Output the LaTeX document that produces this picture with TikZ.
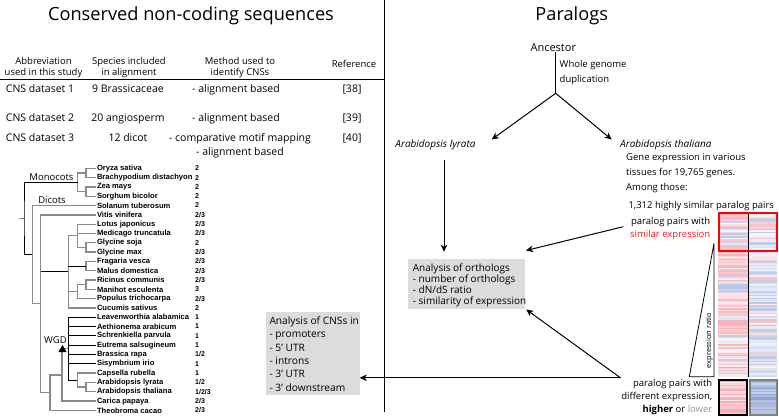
\documentclass[tikz,border=0pt]{standalone}
\usepackage{fontspec}
\setmainfont{Open Sans}
\newfontfamily\treefont{Liberation Sans}
\usetikzlibrary{arrows.meta}
\definecolor{boxgray}{RGB}{220,220,220}
\definecolor{treegray}{RGB}{138,138,138}
\definecolor{redtxt}{RGB}{230,25,35}
\definecolor{pinkc}{RGB}{238,110,125}
\definecolor{bluec}{RGB}{110,135,200}
\definecolor{lowgray}{RGB}{150,150,150}
\newcommand{\fsz}[2]{\fontsize{#1}{#2}\selectfont}
\tikzset{
  ttl/.style={font=\fsz{18.2}{22}, inner sep=0, anchor=base},
  hdr/.style={font=\fsz{9.5}{11}, align=center, inner sep=0},
  cell/.style={font=\fsz{10.5}{13}, inner sep=0, anchor=base},
  txt/.style={font=\fsz{9.5}{15}, inner sep=0},
  sp/.style={font=\treefont\bfseries\fsz{7.6}{9}, anchor=west, inner sep=0.8pt},
  num/.style={font=\treefont\bfseries\fsz{7}{9}, anchor=west, inner sep=0},
  clade/.style={font=\fsz{9.5}{11}, inner sep=0},
  tg/.style={draw=treegray, line width=1.3},
  tb/.style={draw=black, line width=0.9},
  arr/.style={-{Stealth[length=7pt,width=6.5pt,inset=2pt]}, line width=1},
  gbox/.style={fill=boxgray, inner sep=0, anchor=north west},
}
\begin{document}
\begin{tikzpicture}[x=1pt,y=-1pt]
\useasboundingbox (0,0) rectangle (779,416);

% ---------- left part ----------
\node[ttl] (ltitle) at (191,20.7) {Conserved non-coding sequences};
\draw[line width=0.9] (384,0) -- (384,412);
\draw[line width=0.9] (0,79) -- (384,79);

\node[hdr] (h1) at (43.5,67.4) {Abbreviation\\used in this study};
\node[hdr] (h2) at (129,67.4) {Species included\\in alignment};
\node[hdr] (h3) at (240,67.4) {Method used to\\identify CNSs};
\node[hdr] (h4) at (354,64) {Reference};

\node[cell] (r1a) at (40,92.8) {CNS dataset 1};
\node[cell] (r1b) at (128,92.8) {9 Brassicaceae};
\node[cell] (r1c) at (236,92.8) {- alignment based};
\node[cell] (r1d) at (352,92.8) {[38]};
\node[cell] (r2a) at (40,121.3) {CNS dataset 2};
\node[cell] (r2b) at (128,121.3) {20 angiosperm};
\node[cell] (r2c) at (236,121.3) {- alignment based};
\node[cell] (r2d) at (352,121.3) {[39]};
\node[cell] (r3a) at (40,141.8) {CNS dataset 3};
\node[cell] (r3b) at (128,141.8) {12 dicot};
\node[cell] (r3c) at (240,141.8) {- comparative motif mapping};
\node[cell] (r3e) at (240,155.3) {- alignment based};
\node[cell] (r3d) at (352,141.8) {[40]};

% tree
\foreach \nm/\nu [count=\i from 0] in {Oryza sativa/{2},Brachypodium distachyon/{2},Zea mays/{2},Sorghum bicolor/{2},Solanum tuberosum/{2},Vitis vinifera/{2/3},Lotus japonicus/{2/3},Medicago truncatula/{2/3},Glycine soja/{2},Glycine max/{2/3},Fragaria vesca/{2/3},Malus domestica/{2/3},Ricinus communis/{2/3},Manihot esculenta/{3},Populus trichocarpa/{2/3},Cucumis sativus/{2},Leavenworthia alabamica/{1},Aethionema arabicum/{1},Schrenkiella parvula/{1},Eutrema salsugineum/{1},Brassica rapa/{1/2},Sisymbrium irio/{1},Capsella rubella/{1},Arabidopsis lyrata/{1/2},Arabidopsis thaliana/{1/2/3},Carica papaya/{2/3},Theobroma cacao/{2/3}}{
  \node[sp] (s\i) at (96,{168.3+9.31*\i}) {\nm};
  \node[num] (n\i) at (195,{168.3+9.31*\i}) {\nu};
}
\coordinate (jOB) at (86,172.95);
\coordinate (jZS) at (86,191.57);
\coordinate (jMon) at (77.7,182.3);
\coordinate (jRoot) at (24,218.5);
\coordinate (jDic) at (32.3,254.6);
\coordinate (jRos) at (40.7,303.8);
\coordinate (jGG) at (86,247.45);
\coordinate (jLeg) at (77.3,235.8);
\coordinate (jFM) at (86,266.05);
\coordinate (jRM) at (86,284.65);
\coordinate (jRMP) at (77.3,291.6);
\coordinate (jFab) at (68.3,271.9);
\coordinate (jLT) at (86,387.05);
\coordinate (jCap) at (77.3,380.1);
\coordinate (jBra) at (68.3,348.7);
\coordinate (jWGD) at (62,374.9);
\coordinate (jCT) at (50,392.65);

\draw[tg] (s0.west) -| (jOB) |- (s1.west);
\draw[tg] (s2.west) -| (jZS) |- (s3.west);
\draw[tg] (jOB) -| (jMon) |- (jZS);
\draw[tb] (jMon) -| (jRoot) |- (jDic);
\draw[tg] (jRoot) -- ++(-5,0);
\draw[tg] (s4.west) -| (jDic) |- (jRos);
\draw[tg] (s5.west) -| (jRos) |- (jCT);
\draw[tb] (jRos |- jFab) -- (jFab);
\draw[tg] (jLeg) -| (jFab) |- (s15.west);
\draw[tg] (s6.west) -| (jLeg) |- (jGG);
\draw[tg] (s7.west) -- (jLeg |- s7.west);
\draw[tg] (s8.west) -| (jGG) |- (s9.west);
\draw[tg] (s10.west) -| (jFM) |- (s11.west);
\draw[tb] (jFab |- jFM) -- (jFM);
\draw[tg] (s12.west) -| (jRM) |- (s13.west);
\draw[tg] (jRM) -| (jRMP) |- (s14.west);
\draw[tg] (jFab |- jRMP) -- (jRMP);
\draw[tb] (s16.west) -| (jBra) |- (jCap);
\foreach \k in {17,...,21}{ \draw[tb] (s\k.west) -- (jBra |- s\k.west); }
\draw[tg] (s22.west) -| (jCap) |- (jLT);
\draw[tg] (s23.west) -| (jLT) |- (s24.west);
\draw[tg] (jBra) -| (jWGD) |- (s25.west);
\draw[tg] (jWGD) -| (jCT) |- (s26.west);
\fill (58.3,352.2) -- (66.7,352.2) -- (62.5,345) -- cycle;

\node[clade] (mono) at (51.5,177) {Monocots};
\node[clade] (dico) at (52,200) {Dicots};
\node[clade] (wgd) at (55.5,340.5) {WGD};

% CNS box
\node[gbox, minimum width=93.3, minimum height=83.3] (cnsbox) at (266,311.7) {};
\node[font=\fsz{10.2}{13.3}, align=left, inner sep=0, anchor=north west] (cnstext) at (269.3,316.5)
  {Analysis of CNSs in\\- promoters\\- 5’ UTR\\- introns\\- 3’ UTR\\- 3’ downstream};

% ---------- right part ----------
\node[ttl] (rtitle) at (571.7,20.7) {Paralogs};
\node[font=\fsz{11}{13}, inner sep=0, anchor=base] (anc) at (553.3,51.7) {Ancestor};
\coordinate (split) at (555.7,93.3);
\coordinate (lyrtip) at (491.7,139.5);
\coordinate (thatip) at (611.7,139.5);
\draw[line width=1] (split |- anc.south) -- (split);
\draw[arr] (split) -- (lyrtip);
\draw[arr] (split) -- (thatip);
\node[txt, align=left, anchor=north west] (wgdtxt) at (559.5,60.3) {Whole genome\\duplication};

\node[font=\fsz{10}{12}\itshape, inner sep=0, anchor=base] (lyr) at (435.5,147) {Arabidopsis lyrata};
\node[font=\fsz{10}{12}\itshape, inner sep=0, anchor=base west] (tha) at (620,147) {Arabidopsis thaliana};
\node[txt, align=left, anchor=north west] (genetxt) at (626,153.6) {Gene expression in various\\tissues for 19,765 genes.\\Among those:};
\node[txt, anchor=base west] (hsp) at (628.3,208) {1,312 highly similar paralog pairs};

\coordinate (lyrbot) at (444,160);
\coordinate (lyrtip2) at (444,251.7);
\draw[arr] (lyrbot) -- (lyrtip2);

% orthologs box
\node[gbox, minimum width=117.7, minimum height=50] (orthobox) at (407.3,258.3) {};
\node[font=\fsz{10}{11}, align=left, inner sep=0, anchor=north west] (orthotext) at (412.7,263.3)
  {Analysis of orthologs\\- number of orthologs\\- dN/dS ratio\\- similarity of expression};

% heatmap
\pgfmathsetseed{12}
\foreach \i in {0,...,25}{
  \pgfmathsetmacro\hmYa{212.3+1.5*\i}
  \pgfmathsetmacro\hmYb{\hmYa+1.55}
  \pgfmathsetmacro\hmP{rnd}
  \pgfmathsetmacro\hmA{int(8+42*rnd)}
  \ifdim\hmP pt<0.65pt \edef\hmCl{pinkc!\hmA!white}\else\edef\hmCl{bluec!\hmA!white}\fi
  \fill[fill=\hmCl] (718.3,\hmYa) rectangle (748.3,\hmYb);
  \pgfmathsetmacro\hmP{rnd}
  \pgfmathsetmacro\hmA{int(8+38*rnd)}
  \ifdim\hmP pt<0.5pt \edef\hmCl{pinkc!\hmA!white}\else\edef\hmCl{bluec!\hmA!white}\fi
  \fill[fill=\hmCl] (748.3,\hmYa) rectangle (777.3,\hmYb);
}
\foreach \i in {0,...,83}{
  \pgfmathsetmacro\hmYa{251+1.5*\i}
  \pgfmathsetmacro\hmYb{\hmYa+1.55}
  \pgfmathsetmacro\hmP{rnd}
  \pgfmathsetmacro\hmA{int(8+45*rnd)}
  \ifdim\hmP pt<0.75pt \edef\hmCl{pinkc!\hmA!white}\else\edef\hmCl{bluec!\hmA!white}\fi
  \fill[fill=\hmCl] (718.3,\hmYa) rectangle (748.3,\hmYb);
  \pgfmathsetmacro\hmP{rnd}
  \pgfmathsetmacro\hmA{int(8+40*rnd)}
  \pgfmathsetmacro\hmQ{0.45-0.4*\i/83}
  \ifdim\hmP pt<\hmQ pt \edef\hmCl{pinkc!\hmA!white}\else\edef\hmCl{bluec!\hmA!white}\fi
  \fill[fill=\hmCl] (748.3,\hmYa) rectangle (777.3,\hmYb);
}
\foreach \i in {0,...,24}{
  \pgfmathsetmacro\hmYa{378.5+1.5*\i}
  \pgfmathsetmacro\hmYb{\hmYa+1.55}
  \pgfmathsetmacro\hmA{int(18+40*rnd)}
  \edef\hmCl{pinkc!\hmA!white}
  \fill[fill=\hmCl] (718.3,\hmYa) rectangle (748.3,\hmYb);
  \pgfmathsetmacro\hmA{int(35+45*rnd)}
  \edef\hmCl{bluec!\hmA!white}
  \fill[fill=\hmCl] (748.3,\hmYa) rectangle (777.3,\hmYb);
}
\fill[white] (718,376.9) rectangle (778,378.6);
\fill[white] (747.6,378.6) rectangle (749.2,416);
\draw[line width=0.8] (748.3,212.3) -- (748.3,377);
\draw[draw=red, line width=2] (719.3,213.3) rectangle (776.6,250.5);
\draw[draw=black, line width=1.8] (719.2,379.6) rectangle (747,415.1);
\draw[draw=gray, line width=1.8] (750,379.6) rectangle (776.8,415.1);

% expression ratio triangle
\coordinate (triA) at (689.3,376.7);
\coordinate (triB) at (714,243.3);
\coordinate (triC) at (714,376.7);
\draw[line width=0.8] (triA) -- (triB) -- (triC) -- cycle;
\node[font=\fsz{7.4}{9}, rotate=90, inner sep=0] (ratio) at (709.3,340.5) {expression ratio};

% paralog labels
\node[font=\fsz{9.5}{12.3}, align=right, anchor=east, inner sep=0] (simtxt) at (710.5,228.5)
  {paralog pairs with\\\textcolor{redtxt}{similar expression}};
\node[font=\fsz{9.5}{13}, align=right, anchor=east, inner sep=0] (difftxt) at (712.5,396.8)
  {paralog pairs with\\different expression,\\\textbf{higher} or \textcolor{lowgray}{lower}};

\coordinate (simstart) at (623.3,226.7);
\coordinate (simtip) at (526,250.5);
\draw[arr] (simstart) -- (simtip);
\coordinate (diffpt) at (620.5,377.8);
\draw[arr] (diffpt) -- ([shift={(0.8,0.8)}]orthobox.south east);
\draw[arr] (diffpt) -- (cnsbox.east |- diffpt);
\end{tikzpicture}
\end{document}
